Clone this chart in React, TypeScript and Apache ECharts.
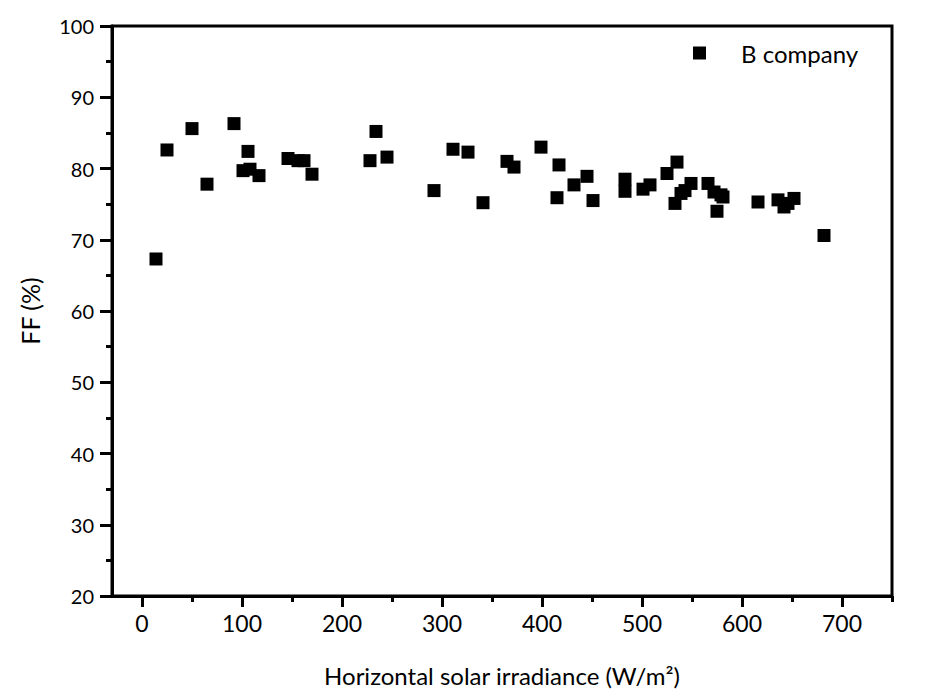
import React, { useEffect, useRef } from "react";
import * as echarts from "echarts";

const seriesName = "B company";
const irradiance = [
  14, 25, 50, 65, 92, 106, 101, 108, 117, 146, 156, 162, 170, 228, 234, 245,
  292, 311, 326, 341, 365, 372, 399, 417, 415, 432, 445, 451, 483, 483, 501,
  508, 525, 535, 533, 539, 549, 543, 566, 572, 581, 575, 579, 616, 636, 642,
  652, 646, 682,
];
const ff = [
  67.3, 82.6, 85.6, 77.8, 86.3, 82.4, 79.7, 79.9, 79.0, 81.4, 81.1, 81.1, 79.2,
  81.1, 85.2, 81.6, 76.9, 82.7, 82.3, 75.2, 81.0, 80.2, 83.0, 80.5, 75.9, 77.7,
  78.9, 75.5, 78.5, 76.8, 77.1, 77.7, 79.3, 80.9, 75.1, 76.5, 77.9, 76.9, 77.9,
  76.7, 76.0, 74.0, 76.3, 75.3, 75.6, 74.6, 75.8, 75.1, 70.6,
];
const xMajorTicks = [0, 100, 200, 300, 400, 500, 600, 700];
const xMinorTicks = [50, 150, 250, 350, 450, 550, 650, 750];

const FONT = "Lato, 'Liberation Sans', sans-serif";

export default function App() {
  const ref = useRef<HTMLDivElement>(null);
  useEffect(() => {
    if (!ref.current) return;
    const chart = echarts.init(ref.current, undefined, { renderer: "svg" });
    const points = irradiance.map((x, i) => [x, ff[i]]);
    chart.setOption({
      animation: false,
      backgroundColor: "#ffffff",
      textStyle: { fontFamily: FONT, color: "#000" },
      grid: {
        left: 112,
        right: 43,
        top: 26,
        bottom: 100,
        show: true,
        borderColor: "#000",
        borderWidth: 3,
        containLabel: false,
      },
      legend: {
        data: [seriesName],
        left: 688,
        top: 36,
        icon: "rect",
        itemWidth: 13,
        itemHeight: 13,
        textStyle: {
          fontFamily: FONT,
          fontSize: 24,
          color: "#000",
          padding: [0, 0, 0, 30],
        },
      },
      xAxis: [
        {
          type: "value",
          min: -30,
          max: 750,
          position: "bottom",
          splitLine: { show: false },
          axisLine: { show: true, onZero: false, lineStyle: { color: "#000", width: 3 } },
          axisTick: {
            show: true,
            inside: false,
            length: 11,
            lineStyle: { color: "#000", width: 3 },
            customValues: xMajorTicks,
          },
          axisLabel: {
            show: true,
            margin: 15,
            fontSize: 23,
            fontFamily: FONT,
            color: "#000",
            customValues: xMajorTicks,
          },
          name: "Horizontal solar irradiance (W/m²)",
          nameLocation: "middle",
          nameGap: 67,
          nameTextStyle: { fontSize: 24, fontFamily: FONT, color: "#000" },
        },
        {
          type: "value",
          min: -30,
          max: 750,
          position: "bottom",
          offset: 0,
          splitLine: { show: false },
          axisLine: { show: false },
          axisTick: {
            show: true,
            inside: false,
            length: 6,
            lineStyle: { color: "#000", width: 3 },
            customValues: xMinorTicks,
          },
          axisLabel: { show: false },
        },
      ],
      yAxis: {
        type: "value",
        min: 20,
        max: 100,
        interval: 10,
        splitLine: { show: false },
        axisLine: { show: true, onZero: false, lineStyle: { color: "#000", width: 3 } },
        axisTick: { show: true, inside: false, length: 12, lineStyle: { color: "#000", width: 3 } },
        minorTick: { show: true, splitNumber: 2, length: 6, lineStyle: { color: "#000", width: 3 } },
        axisLabel: { margin: 18, fontSize: 20, fontFamily: FONT, color: "#000" },
        name: "FF (%)",
        nameLocation: "middle",
        nameGap: 70,
        nameTextStyle: { fontSize: 25, fontFamily: FONT, color: "#000" },
      },
      series: [
        {
          name: seriesName,
          type: "scatter",
          xAxisIndex: 0,
          symbol: "rect",
          symbolSize: 13,
          itemStyle: { color: "#000", opacity: 1 },
          data: points,
        },
      ],
    });
    return () => chart.dispose();
  }, []);
  return <div ref={ref} style={{ width: 935, height: 696, position: "absolute", left: 0, top: 0 }} />;
}
